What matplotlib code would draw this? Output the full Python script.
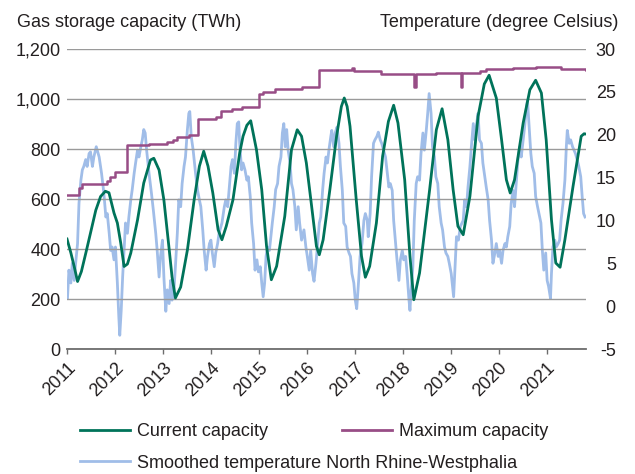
import matplotlib
matplotlib.use("Agg")
import matplotlib.pyplot as plt
from matplotlib.ticker import FuncFormatter
from matplotlib.lines import Line2D

plt.rcParams['font.family'] = ['Liberation Sans', 'DejaVu Sans']
plt.rcParams['font.size'] = 13
plt.rcParams['axes.unicode_minus'] = False

# current gas storage capacity (TWh)
cur_t = [2011.00, 2011.08, 2011.15, 2011.22, 2011.30, 2011.40, 2011.49, 2011.60, 2011.70, 2011.80,
         2011.875, 2011.98, 2012.05, 2012.12, 2012.19, 2012.26, 2012.33, 2012.47, 2012.60, 2012.74,
         2012.81, 2012.92, 2013.02, 2013.125, 2013.19, 2013.26, 2013.37, 2013.51, 2013.65, 2013.76,
         2013.85, 2013.94, 2014.04, 2014.15, 2014.23, 2014.32, 2014.46, 2014.60, 2014.67, 2014.75,
         2014.83, 2014.95, 2015.06, 2015.16, 2015.26, 2015.37, 2015.54, 2015.68, 2015.80, 2015.89,
         2015.99, 2016.10, 2016.20, 2016.26, 2016.34, 2016.48, 2016.62, 2016.72, 2016.78, 2016.84,
         2016.90, 2017.03, 2017.14, 2017.22, 2017.31, 2017.45, 2017.58, 2017.70, 2017.81, 2017.90,
         2018.04, 2018.15, 2018.23, 2018.35, 2018.56, 2018.70, 2018.82, 2018.94, 2019.05, 2019.15,
         2019.26, 2019.40, 2019.57, 2019.70, 2019.80, 2019.95, 2020.06, 2020.16, 2020.24, 2020.33,
         2020.51, 2020.65, 2020.77, 2020.89, 2020.99, 2021.10, 2021.19, 2021.28, 2021.38, 2021.55,
         2021.72, 2021.78, 2021.81]
cur_v = [440, 385, 330, 270, 310, 390, 464, 555, 610, 631,
         625, 544, 504, 424, 330, 340, 384, 516, 664, 756,
         763, 716, 596, 408, 288, 204, 248, 396, 596, 731,
         791, 731, 624, 477, 437, 491, 597, 784, 851, 895,
         913, 797, 637, 411, 277, 331, 531, 797, 877, 851,
         744, 571, 411, 377, 437, 637, 851, 970, 1004, 970,
         891, 597, 371, 287, 331, 504, 771, 910, 975, 904,
         677, 371, 197, 304, 637, 877, 961, 837, 637, 491,
         457, 611, 931, 1060, 1095, 1004, 837, 677, 624, 677,
         904, 1037, 1075, 1024, 837, 517, 344, 327, 437, 651,
         851, 861, 860]

# maximum capacity (TWh), step changes
max_t = [2011.00, 2011.25, 2011.31, 2011.84, 2011.89, 2012.01, 2012.26, 2012.70, 2013.09, 2013.20,
         2013.30, 2013.55, 2013.74, 2014.10, 2014.22, 2014.45, 2014.65, 2015.00, 2015.08, 2015.33,
         2015.90, 2016.26, 2016.95, 2016.98, 2017.55, 2018.24, 2018.27, 2018.70, 2019.21, 2019.24,
         2019.60, 2019.74, 2020.30, 2020.78, 2021.30, 2021.82]
max_v = [616, 645, 660, 672, 690, 708, 815, 822, 828, 836,
         848, 855, 922, 928, 952, 962, 970, 1022, 1030, 1040,
         1048, 1118, 1126, 1112, 1100, 1050, 1100, 1106, 1050, 1104,
         1112, 1120, 1124, 1130, 1122, 1116]

# smoothed temperature North Rhine-Westphalia (deg C)
temp_t = [2011.01, 2011.04, 2011.08, 2011.11, 2011.15, 2011.18, 2011.22, 2011.25, 2011.29, 2011.32,
          2011.35, 2011.39, 2011.42, 2011.46, 2011.49, 2011.53, 2011.56, 2011.61, 2011.67, 2011.72,
          2011.76, 2011.78, 2011.81, 2011.84, 2011.88, 2011.91, 2011.94, 2011.98, 2012.01, 2012.05,
          2012.08, 2012.10, 2012.13, 2012.16, 2012.19, 2012.22, 2012.26, 2012.29, 2012.33, 2012.36,
          2012.40, 2012.43, 2012.47, 2012.50, 2012.54, 2012.57, 2012.60, 2012.63, 2012.66, 2012.71,
          2012.76, 2012.80, 2012.85, 2012.88, 2012.92, 2012.95, 2012.99, 2013.02, 2013.06, 2013.09,
          2013.13, 2013.16, 2013.19, 2013.23, 2013.26, 2013.30, 2013.33, 2013.37, 2013.40, 2013.44,
          2013.47, 2013.51, 2013.54, 2013.56, 2013.59, 2013.63, 2013.68, 2013.72, 2013.76, 2013.79,
          2013.83, 2013.86, 2013.90, 2013.93, 2013.97, 2014.00, 2014.03, 2014.07, 2014.10, 2014.14,
          2014.17, 2014.23, 2014.28, 2014.31, 2014.35, 2014.38, 2014.42, 2014.45, 2014.49, 2014.52,
          2014.55, 2014.58, 2014.60, 2014.64, 2014.67, 2014.71, 2014.75, 2014.78, 2014.82, 2014.85,
          2014.89, 2014.92, 2014.96, 2014.99, 2015.03, 2015.06, 2015.09, 2015.12, 2015.15, 2015.18,
          2015.22, 2015.25, 2015.28, 2015.32, 2015.35, 2015.39, 2015.42, 2015.46, 2015.49, 2015.52,
          2015.55, 2015.58, 2015.61, 2015.65, 2015.68, 2015.71, 2015.75, 2015.78, 2015.82, 2015.85,
          2015.89, 2015.94, 2015.98, 2016.01, 2016.05, 2016.08, 2016.12, 2016.15, 2016.19, 2016.22,
          2016.26, 2016.29, 2016.33, 2016.36, 2016.40, 2016.43, 2016.46, 2016.50, 2016.52, 2016.56,
          2016.59, 2016.63, 2016.67, 2016.70, 2016.74, 2016.77, 2016.81, 2016.84, 2016.88, 2016.91,
          2016.94, 2016.98, 2017.01, 2017.04, 2017.08, 2017.11, 2017.15, 2017.19, 2017.22, 2017.26,
          2017.28, 2017.32, 2017.35, 2017.39, 2017.42, 2017.46, 2017.49, 2017.53, 2017.56, 2017.60,
          2017.64, 2017.67, 2017.71, 2017.74, 2017.78, 2017.81, 2017.85, 2017.88, 2017.92, 2017.95,
          2017.99, 2018.02, 2018.06, 2018.09, 2018.13, 2018.15, 2018.17, 2018.21, 2018.24, 2018.28,
          2018.31, 2018.35, 2018.38, 2018.42, 2018.45, 2018.49, 2018.52, 2018.55, 2018.59, 2018.62,
          2018.66, 2018.69, 2018.73, 2018.76, 2018.80, 2018.83, 2018.87, 2018.90, 2018.94, 2018.97,
          2019.01, 2019.06, 2019.09, 2019.12, 2019.16, 2019.20, 2019.26, 2019.29, 2019.33, 2019.36,
          2019.40, 2019.43, 2019.47, 2019.50, 2019.53, 2019.57, 2019.60, 2019.64, 2019.67, 2019.71,
          2019.74, 2019.78, 2019.81, 2019.85, 2019.88, 2019.92, 2019.95, 2019.99, 2020.02, 2020.06,
          2020.09, 2020.13, 2020.16, 2020.19, 2020.23, 2020.26, 2020.30, 2020.33, 2020.37, 2020.40,
          2020.44, 2020.47, 2020.51, 2020.54, 2020.58, 2020.60, 2020.63, 2020.67, 2020.70, 2020.74,
          2020.77, 2020.81, 2020.84, 2020.88, 2020.91, 2020.94, 2020.98, 2021.01, 2021.04, 2021.08,
          2021.10, 2021.13, 2021.17, 2021.20, 2021.24, 2021.27, 2021.30, 2021.34, 2021.38, 2021.41,
          2021.43, 2021.47, 2021.50, 2021.54, 2021.57, 2021.60, 2021.64, 2021.67, 2021.71, 2021.74,
          2021.77, 2021.80]
temp_v = [0.9, 4.2, 2.7, 5.0, 3.0, 5.0, 7.3, 12.0, 14.7, 15.9,
          16.3, 17.1, 16.3, 17.8, 18.0, 16.3, 17.4, 18.6, 17.4, 15.5,
          13.6, 12.4, 10.4, 10.8, 8.5, 6.5, 6.9, 5.4, 6.9, 2.7,
          -1.2, -3.4, -0.5, 3.4, 6.5, 9.7, 8.5, 10.4, 12.4, 13.6,
          15.5, 16.7, 18.2, 17.4, 18.6, 19.4, 20.6, 20.2, 18.2, 15.5,
          13.2, 11.2, 8.5, 6.5, 3.4, 5.8, 7.7, 3.4, -0.6, 1.9,
          0.3, 3.0, 0.7, 1.9, 4.6, 8.5, 12.4, 11.6, 14.3, 16.3,
          17.4, 20.6, 22.5, 22.7, 19.8, 18.2, 15.5, 13.6, 12.4, 11.6,
          8.9, 6.5, 4.2, 5.8, 7.3, 7.7, 6.2, 4.6, 6.2, 7.3,
          8.5, 9.7, 11.6, 12.4, 11.6, 13.6, 16.3, 17.1, 15.5, 19.0,
          21.3, 21.5, 19.0, 15.9, 16.7, 15.9, 14.7, 15.1, 12.8, 9.7,
          7.3, 4.2, 5.4, 4.0, 4.6, 2.7, 1.1, 2.7, 5.8, 6.9,
          6.5, 8.1, 9.7, 11.6, 13.6, 14.3, 16.3, 17.4, 20.2, 21.3,
          18.6, 20.6, 18.2, 16.7, 14.3, 13.6, 11.6, 8.9, 11.6, 9.7,
          7.7, 8.9, 6.9, 5.8, 4.2, 6.5, 3.8, 2.9, 5.0, 6.9,
          9.7, 10.4, 13.6, 15.5, 17.4, 16.7, 18.2, 19.8, 20.5, 18.6,
          20.2, 20.9, 19.0, 16.3, 13.5, 9.7, 9.3, 6.9, 6.2, 5.8,
          3.8, 2.7, 0.7, -0.3, 3.0, 5.8, 7.3, 10.0, 10.8, 10.0,
          8.1, 10.8, 15.1, 19.0, 19.4, 19.8, 20.3, 19.4, 19.0, 18.2,
          17.4, 15.9, 13.9, 14.3, 13.5, 10.0, 7.3, 5.4, 3.0, 5.4,
          6.5, 5.4, 5.8, 3.8, 0.7, -0.5, 1.5, 4.6, 10.0, 14.3,
          15.1, 14.7, 17.8, 20.2, 18.2, 20.5, 22.5, 24.8, 22.5, 18.6,
          17.4, 15.1, 14.3, 11.6, 9.7, 8.9, 6.9, 6.2, 5.8, 5.0,
          3.8, 1.1, 4.6, 8.1, 7.7, 9.3, 10.0, 12.4, 11.6, 13.9,
          16.3, 18.6, 21.3, 19.4, 20.9, 22.5, 19.4, 19.0, 16.7, 15.1,
          13.9, 12.4, 10.0, 7.7, 5.0, 6.2, 7.3, 5.8, 6.5, 5.0,
          6.5, 7.3, 6.9, 8.1, 9.3, 12.0, 13.5, 11.6, 14.7, 17.0,
          18.6, 17.4, 19.4, 20.9, 23.3, 24.0, 21.3, 17.8, 16.3, 15.5,
          12.8, 11.6, 10.8, 9.7, 6.5, 4.2, 6.2, 3.0, 2.3, 0.9,
          3.8, 6.9, 7.7, 6.9, 7.3, 7.7, 10.0, 12.0, 14.7, 18.6,
          20.5, 19.0, 19.4, 18.6, 18.2, 17.8, 17.0, 16.3, 15.1, 12.8,
          10.8, 10.4]

years = list(range(2011, 2022))

green = '#00735a'
purple = '#984d86'
lightblue = '#a0bde8'
txt = '#231f20'

fig = plt.figure(figsize=(6.35, 4.74), dpi=100)
ax = fig.add_axes([67/635, 1-349/474, (586-67)/635, 300/474])
ax2 = ax.twinx()
ax.set_zorder(ax2.get_zorder() + 1)
ax.patch.set_visible(False)

ax2.plot(temp_t, temp_v, color=lightblue, lw=2.0, solid_joinstyle='round')
ax.plot(max_t, max_v, color=purple, lw=1.8, drawstyle='steps-post')
ax.plot(cur_t, cur_v, color=green, lw=2.0, solid_joinstyle='round')

ax.set_xlim(2011, 2021.82)
ax.set_ylim(0, 1200)
ax2.set_ylim(-5, 30)
ax.set_yticks(range(0, 1201, 200))
ax2.set_yticks(range(-5, 31, 5))
ax.yaxis.set_major_formatter(FuncFormatter(lambda v, p: f"{v:,.0f}"))
ax.grid(axis='y', color='#9a9a9a', lw=1.0)
ax.set_axisbelow(True)

for a in (ax, ax2):
    for s in a.spines.values():
        s.set_visible(False)
ax.spines['bottom'].set_visible(True)
ax.spines['bottom'].set_color('#6d6d6d')
ax.spines['bottom'].set_linewidth(1.3)

ax.tick_params(axis='y', length=0, pad=4.5, labelcolor=txt)
ax2.tick_params(axis='y', length=0, pad=21.5, labelcolor=txt)
for lab in ax2.get_yticklabels():
    lab.set_horizontalalignment('right')

ax.set_xticks(years)
ax.set_xticklabels([str(y) for y in years], rotation=45, ha='right',
                   rotation_mode='anchor', color=txt)
ax.tick_params(axis='x', length=3.5, width=1, color='#6d6d6d', pad=4)

fig.text(17/635, 1-27/474, 'Gas storage capacity (TWh)', color=txt, va='baseline', ha='left')
fig.text(618/635, 1-27/474, 'Temperature (degree Celsius)', color=txt, va='baseline', ha='right')

leg_kw = dict(frameon=False, borderpad=0, borderaxespad=0, handlelength=2.75,
              handletextpad=0.4, loc='center left', labelcolor=txt)
fig.legend([Line2D([], [], color=green, lw=2.0)], ['Current capacity'],
           bbox_to_anchor=(80/635, 1-432/474), **leg_kw)
fig.legend([Line2D([], [], color=purple, lw=2.0)], ['Maximum capacity'],
           bbox_to_anchor=(342/635, 1-432/474), **leg_kw)
fig.legend([Line2D([], [], color=lightblue, lw=2.0)], ['Smoothed temperature North Rhine-Westphalia'],
           bbox_to_anchor=(80/635, 1-463/474), **leg_kw)

fig.savefig('out.png', dpi=100)
